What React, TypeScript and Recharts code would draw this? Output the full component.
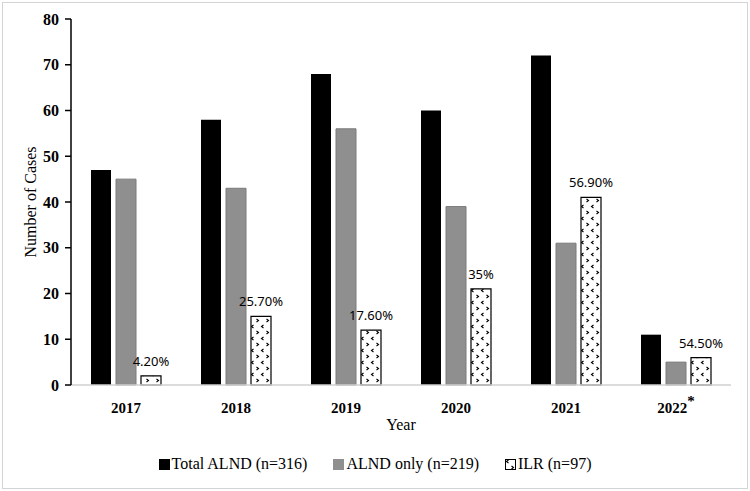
import { BarChart, Bar, XAxis, YAxis, LabelList } from "recharts";

const years = ["2017", "2018", "2019", "2020", "2021", "2022"];
const totalAlnd = [47, 58, 68, 60, 72, 11];
const alndOnly = [45, 43, 56, 39, 31, 5];
const ilr = [2, 15, 12, 21, 41, 6];
const ilrRate = ["4.20%", "25.70%", "17.60%", "35%", "56.90%", "54.50%"];
const starredYears = ["2022"];
const yTicks = [0, 10, 20, 30, 40, 50, 60, 70, 80];

const data = years.map((year, i) => ({
  year,
  total: totalAlnd[i],
  only: alndOnly[i],
  ilr: ilr[i],
  rate: ilrRate[i],
}));

const serif = "Liberation Serif, Times New Roman, serif";

function YearTick({ x, y, payload }: any) {
  const starred = starredYears.includes(payload.value);
  return (
    <text
      x={x}
      y={y + 20}
      textAnchor="middle"
      fontFamily={serif}
      fontWeight="bold"
      fontSize={15}
      fill="#000"
    >
      {payload.value}
      {starred ? (
        <tspan dy={-7} fontSize={15}>
          *
        </tspan>
      ) : null}
    </text>
  );
}

function CountTick({ x, y, payload }: any) {
  return (
    <text
      x={x}
      y={y}
      textAnchor="end"
      dominantBaseline="central"
      fontFamily={serif}
      fontWeight="bold"
      fontSize={16}
      fill="#000"
    >
      {payload.value}
    </text>
  );
}

function RateLabel({ x, y, width, value }: any) {
  return (
    <text
      x={x + width / 2}
      y={y - 10}
      textAnchor="middle"
      fontFamily="Noto Sans, sans-serif"
      fontSize={13}
      fill="#000"
    >
      {value}
    </text>
  );
}

function LegendBox({ fill, label }: { fill: string; label: string }) {
  return (
    <div style={{ display: "flex", alignItems: "center" }}>
      <svg width={11} height={11} style={{ marginRight: 2 }}>
        <rect x={0.5} y={0.5} width={10} height={10} fill={fill} stroke={fill === "url(#ilrDots)" ? "#000" : fill} />
      </svg>
      <span>{label}</span>
    </div>
  );
}

export default function App() {
  return (
    <div style={{ position: "absolute", left: 0, top: 0, width: 750, height: 491, background: "#fff" }}>
      <svg width={0} height={0} style={{ position: "absolute" }}>
        <defs>
          <pattern id="ilrDots" width={10} height={12} patternUnits="userSpaceOnUse">
            <rect width={10} height={12} fill="#fff" />
            <path d="M3.5 1 L1.5 2.5 L3.5 4" fill="none" stroke="#000" strokeWidth={1.1} />
            <path d="M6.5 7 L8.5 8.5 L6.5 10" fill="none" stroke="#000" strokeWidth={1.1} />
          </pattern>
        </defs>
      </svg>
      <div
        style={{
          position: "absolute",
          left: 2,
          top: 2,
          width: 744,
          height: 485,
          border: "1.5px solid #d4d4d4",
        }}
      />
      <BarChart
        width={750}
        height={491}
        data={data}
        margin={{ top: 19, right: 19, left: 0, bottom: 66 }}
        barSize={20}
        barGap={5}
      >
        <XAxis
          dataKey="year"
          tickLine={false}
          axisLine={{ stroke: "#d0d0d0", strokeWidth: 1.5 }}
          tick={<YearTick />}
          height={40}
          interval={0}
          label={({ viewBox }: any) => (
            <text
              x={viewBox.x + viewBox.width / 2}
              y={430}
              textAnchor="middle"
              fontFamily={serif}
              fontSize={16}
              fill="#000"
            >
              Year
            </text>
          )}
        />
        <YAxis
          domain={[0, 80]}
          ticks={yTicks}
          width={71}
          interval={0}
          tickSize={6}
          tickMargin={6}
          axisLine={{ stroke: "#000", strokeWidth: 1.5 }}
          tickLine={{ stroke: "#000", strokeWidth: 1.5 }}
          tick={<CountTick />}
          label={({ viewBox }: any) => (
            <text
              x={0}
              y={0}
              transform={`translate(30, ${viewBox.y + viewBox.height / 2}) rotate(-90)`}
              textAnchor="middle"
              dominantBaseline="central"
              fontFamily={serif}
              fontSize={16}
              fill="#000"
            >
              Number of Cases
            </text>
          )}
        />
        <Bar dataKey="total" fill="#000" isAnimationActive={false} />
        <Bar dataKey="only" fill="#8f8f8f" stroke="#7a7a7a" strokeWidth={1} isAnimationActive={false} />
        <Bar dataKey="ilr" fill="url(#ilrDots)" stroke="#000" strokeWidth={1.2} isAnimationActive={false}>
          <LabelList dataKey="rate" content={<RateLabel />} />
        </Bar>
      </BarChart>
      <div
        style={{
          position: "absolute",
          left: 0,
          top: 455,
          width: 750,
          display: "flex",
          justifyContent: "center",
          gap: 26,
          fontFamily: serif,
          fontSize: 16,
          color: "#000",
        }}
      >
        <LegendBox fill="#000" label="Total ALND (n=316)" />
        <LegendBox fill="#8f8f8f" label="ALND only (n=219)" />
        <LegendBox fill="url(#ilrDots)" label="ILR (n=97)" />
      </div>
    </div>
  );
}
